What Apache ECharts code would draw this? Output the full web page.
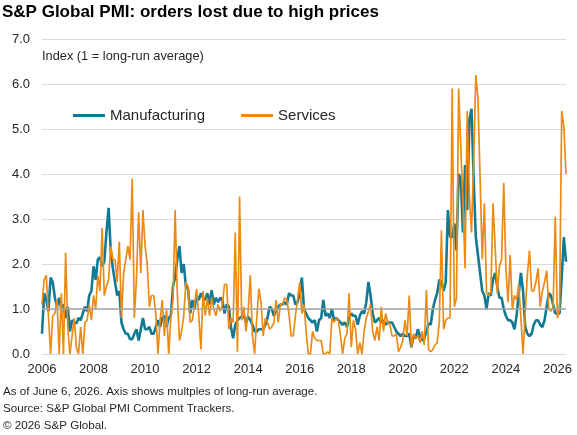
<!DOCTYPE html>
<html>
<head>
<meta charset="utf-8">
<script src="https://cdn.jsdelivr.net/npm/echarts@6/dist/echarts.min.js"></script>
<style>
  html, body { margin: 0; padding: 0; background: #fff; }
  #chart { width: 577px; height: 435px; }
</style>
</head>
<body>
<div id="chart"></div>
<script>
// monthly, Jan 2006 .. May 2026 (one row per year)
const manufacturing = [
  0.45, 1.35, 1.2, 0.95, 1.7, 1.6, 1.25, 1.05, 1.25, 1.0, 1.1, 0.8,     // 2006
  1.05, 0.5, 0.75, 0.7, 0.68, 0.8, 0.75, 0.9, 1.05, 0.95, 1.3, 1.4,     // 2007
  1.95, 1.65, 2.1, 2.15, 1.95, 2.05, 2.7, 3.25, 2.3, 1.9, 1.6, 1.3,     // 2008
  1.4, 0.7, 0.55, 0.45, 0.45, 0.33, 0.33, 0.45, 0.55, 0.3, 0.55, 0.8,   // 2009
  0.55, 0.55, 0.6, 0.45, 0.45, 0.6, 0.75, 0.6, 0.8, 0.85, 0.6, 0.8,     // 2010
  0.85, 1.5, 1.7, 2.1, 2.4, 1.8, 2.0, 1.5, 1.45, 0.9, 1.2, 1.0,         // 2011
  1.3, 1.2, 1.35, 1.25, 1.2, 1.35, 1.1, 1.42, 1.1, 1.25, 1.15, 1.25,    // 2012
  1.2, 0.9, 1.1, 1.05, 0.6, 0.35, 0.65, 0.75, 0.8, 0.83, 0.85, 0.7,     // 2013
  0.83, 0.75, 0.65, 0.5, 0.5, 0.55, 0.55, 0.55, 0.65, 0.8, 1.05, 1.0,   // 2014
  0.85, 0.95, 1.05, 1.1, 1.1, 1.15, 1.1, 1.35, 1.3, 1.3, 1.1, 1.15,     // 2015
  1.35, 1.7, 1.0, 0.9, 0.8, 0.75, 0.7, 0.75, 0.5, 0.75, 0.8, 1.2,       // 2016
  0.85, 0.9, 0.8, 1.0, 0.75, 0.8, 0.75, 0.7, 0.65, 0.7, 0.6, 0.8,       // 2017
  0.9, 0.85, 0.85, 0.65, 0.85, 0.95, 0.9, 1.15, 1.6, 1.3, 0.9, 0.7,     // 2018
  0.75, 0.8, 0.7, 0.75, 0.65, 0.7, 0.7, 0.7, 0.6, 0.5, 0.45, 0.4,       // 2019
  0.45, 0.4, 0.4, 0.45, 0.15, 0.4, 0.35, 0.55, 0.4, 0.3, 0.35, 0.5,     // 2020
  0.68, 0.65, 1.0, 1.2, 1.35, 1.65, 1.6, 1.4, 1.6, 3.2, 2.6, 2.6,       // 2021
  2.9, 2.3, 4.0, 3.9, 2.7, 4.2, 3.2, 5.2, 5.45, 3.9, 2.6, 2.2,          // 2022
  1.8, 1.4, 1.3, 1.0, 1.35, 1.3, 1.65, 1.8, 1.5, 1.25, 1.25, 1.0,       // 2023
  0.85, 0.75, 0.75, 0.7, 0.55, 0.85, 1.35, 1.8, 1.4, 0.6, 0.45, 0.4,    // 2024
  0.45, 0.65, 0.75, 0.75, 0.65, 0.6, 0.75, 1.05, 1.35, 1.3, 1.1, 0.9,   // 2025
  0.9, 0.9, 1.7, 2.6, 2.05                                              // 2026
];

const services = [
  1.1, 1.65, 1.75, 0.85, 0.0, 0.85, 0.9, 1.2, 0.0, 1.35, 0.0, 2.25,     // 2006
  0.6, 0.0, 0.4, 0.8, 0.15, 0.0, 0.6, 0.0, 0.7, 0.75, 1.1, 0.75,        // 2007
  1.3, 1.0, 1.75, 1.4, 2.8, 1.3, 1.5, 1.65, 2.4, 2.1, 2.1, 1.6,         // 2008
  2.5, 0.8, 1.8, 2.1, 2.4, 2.1, 3.9, 0.8, 1.7, 3.15, 1.8, 3.2,          // 2009
  2.4, 2.0, 1.05, 1.3, 1.3, 0.9, 0.0, 0.75, 1.2, 0.4, 1.0, 0.0,         // 2010
  0.8, 1.2, 3.2, 1.35, 0.3, 0.5, 0.85, 1.6, 1.5, 0.7, 0.75, 1.1,        // 2011
  1.45, 0.85, 0.1, 1.4, 0.85, 1.25, 0.85, 1.25, 1.0, 0.85, 1.1, 0.95,   // 2012
  1.1, 1.55, 1.55, 0.55, 0.8, 0.7, 2.7, 0.05, 3.5, 0.75, 1.05, 0.5,     // 2013
  0.95, 1.75, 0.4, 0.0, 0.8, 1.45, 1.15, 0.4, 0.8, 0.7, 0.55, 0.6,      // 2014
  0.7, 1.2, 0.7, 1.1, 1.1, 1.25, 1.2, 0.9, 0.4, 0.4, 0.85, 1.2,         // 2015
  1.6, 0.9, 1.1, 0.5, 0.0, 0.0, 0.5, 0.35, 0.3, 0.3, 0.3, 0.0,          // 2016
  0.0, 0.05, 0.0, 0.8, 0.7, 0.8, 0.75, 0.4, 0.0, 0.35, 0.45, 1.35,      // 2017
  0.15, 0.75, 0.55, 0.0, 0.25, 0.0, 0.5, 0.8, 0.95, 1.1, 0.5, 0.3,      // 2018
  0.6, 0.3, 1.05, 0.5, 0.9, 0.7, 0.65, 0.4, 0.4, 0.45, 0.05, 0.15,      // 2019
  0.3, 0.75, 0.4, 1.3, 0.15, 0.45, 0.35, 0.4, 0.25, 0.5, 0.2, 1.42,     // 2020
  0.1, 0.05, 0.1, 0.2, 0.25, 0.7, 2.75, 0.55, 0.75, 0.8, 0.8, 5.9,      // 2021
  1.05, 1.25, 5.9, 4.6, 3.4, 1.9, 5.4, 3.5, 2.7, 4.3, 6.2, 5.7,         // 2022
  3.9, 2.1, 3.35, 1.35, 1.3, 1.35, 3.35, 2.4, 1.35, 1.95, 2.1, 3.8,     // 2023
  1.9, 1.15, 2.2, 1.0, 1.3, 1.2, 1.55, 0.8, 0.0, 0.9, 1.75, 2.3,        // 2024
  1.4, 1.4, 1.6, 1.9, 1.05, 1.4, 1.6, 1.85, 1.0, 0.95, 1.05, 3.05,      // 2025
  0.8, 1.0, 5.4, 5.05, 4.0                                              // 2026
];

const months = [];
for (let i = 0; i < manufacturing.length; i++) {
  const y = 2006 + Math.floor(i / 12);
  const m = (i % 12) + 1;
  months.push(y + "-" + (m < 10 ? "0" + m : m));
}

const yTicks = [0, 1, 2, 3, 4, 5, 6, 7];
const footnotes = [
  "As of June 6, 2026. Axis shows multples of long-run average.",
  "Source: S&P Global PMI Comment Trackers.",
  "\u00a9 2026 S&P Global."
];

const FONT = "'Liberation Sans', Arial, sans-serif";
const chart = echarts.init(document.getElementById("chart"));

const option = {
  animation: false,
  backgroundColor: "#fff",
  textStyle: { fontFamily: FONT },
  title: {
    text: "S&P Global PMI: orders lost due to high prices",
    left: 2,
    top: 4,
    padding: 0,
    textStyle: { fontSize: 17, fontWeight: "bold", color: "#000", fontFamily: FONT }
  },
  legend: {
    left: 68,
    top: 103,
    itemWidth: 32,
    itemHeight: 3,
    itemGap: 36,
    icon: "rect",
    textStyle: { fontSize: 15, color: "#262626", fontFamily: FONT }
  },
  grid: { left: 42, right: 11, top: 39, bottom: 81 },
  xAxis: {
    type: "category",
    data: months,
    boundaryGap: false,
    axisLine: { show: false },
    axisTick: { show: false },
    axisLabel: {
      interval: function (idx, val) {
        return val.slice(5) === "01" && Number(val.slice(0, 4)) % 2 === 0;
      },
      formatter: function (val) { return val.slice(0, 4); },
      fontSize: 13,
      color: "#262626",
      margin: 9
    }
  },
  yAxis: {
    type: "value",
    min: yTicks[0],
    max: yTicks[yTicks.length - 1],
    interval: 1,
    axisLine: { show: false },
    axisTick: { show: false },
    axisLabel: {
      formatter: function (v) { return v.toFixed(1); },
      fontSize: 13,
      color: "#262626",
      margin: 12
    },
    splitLine: { lineStyle: { color: "#d9d9d9", width: 1 } }
  },
  graphic: [
    {
      type: "text",
      left: 42,
      top: 50,
      style: { text: "Index (1 = long-run average)", fontSize: 12.8, fill: "#262626", fontFamily: FONT }
    }
  ].concat(footnotes.map(function (t, i) {
    return {
      type: "text",
      left: 3,
      top: 386 + i * 17,
      style: { text: t, fontSize: 11.6, fill: "#262626", fontFamily: FONT }
    };
  })),
  series: [
    {
      name: "Manufacturing",
      type: "line",
      data: manufacturing,
      symbol: "none",
      color: "#127b93",
      lineStyle: { width: 2.6, color: "#127b93" },
      markLine: {
        silent: true,
        symbol: "none",
        label: { show: false },
        lineStyle: { color: "#a6a6a6", width: 1.5, type: "solid" },
        data: [{ yAxis: 1 }]
      }
    },
    {
      name: "Services",
      type: "line",
      data: services,
      symbol: "none",
      color: "#ec8a13",
      lineStyle: { width: 1.7, color: "#ec8a13" }
    }
  ]
};

chart.setOption(option);
</script>
</body>
</html>
